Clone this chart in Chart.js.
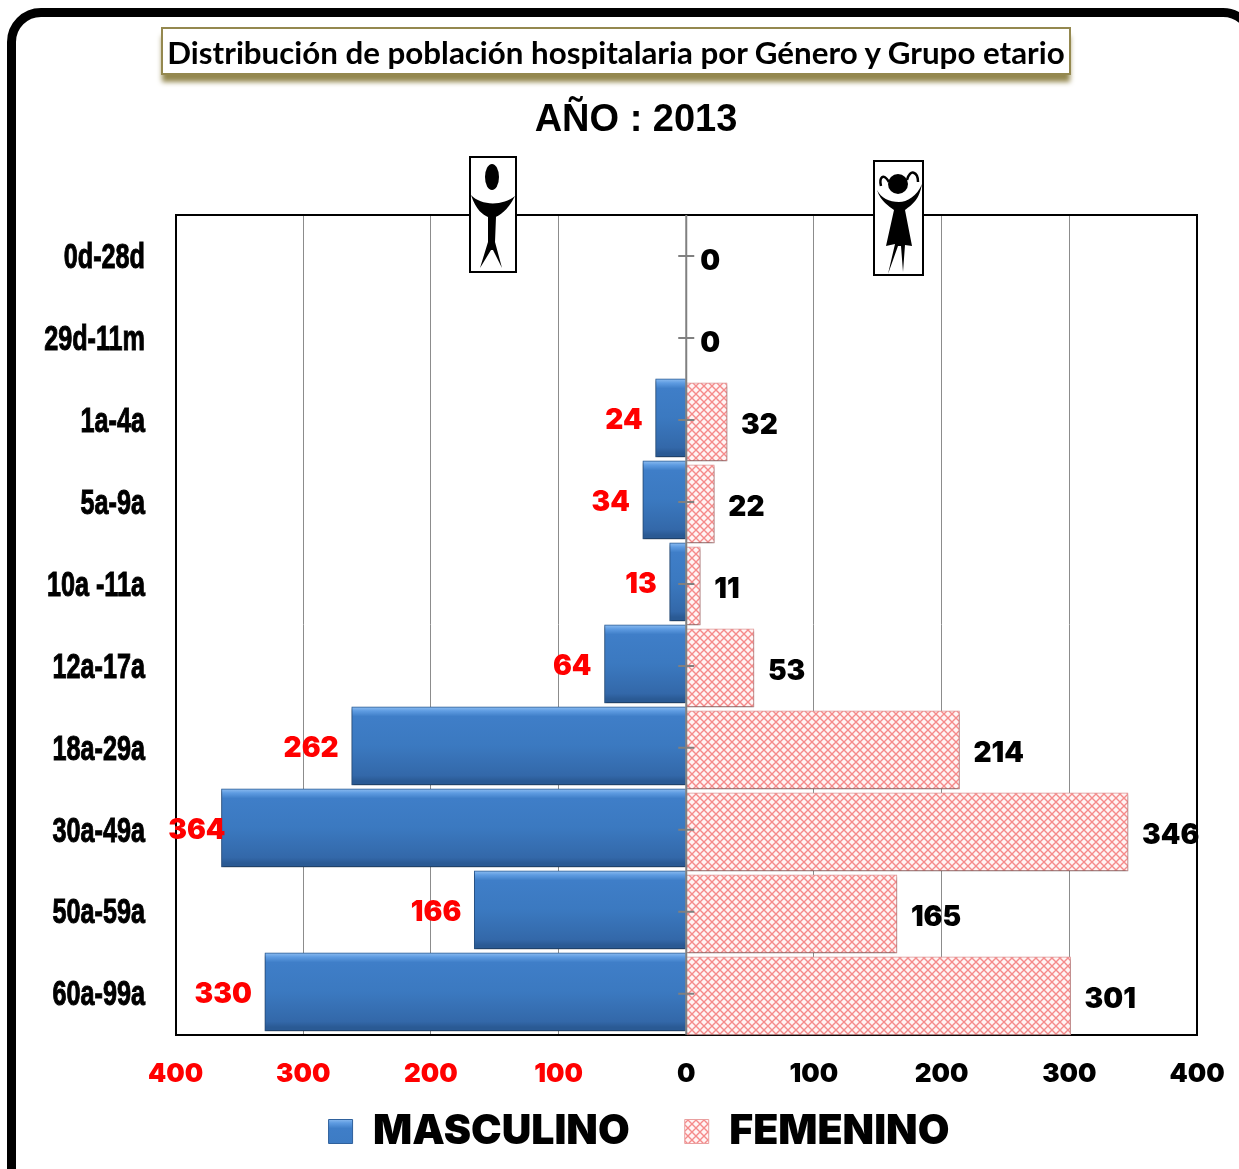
<!DOCTYPE html>
<html lang="es">
<head>
<meta charset="utf-8">
<title>Distribución de población hospitalaria</title>
<script src="https://cdn.jsdelivr.net/npm/chart.js@4/dist/chart.umd.min.js"></script>
<style>
    html, body { margin: 0; padding: 0; background: #fff; }
    #page { position: relative; width: 1239px; height: 1169px; overflow: hidden; }
    #frame { position: absolute; left: 7px; top: 8px; width: 1250px; height: 1200px; box-sizing: border-box; border: 9px solid #000; border-radius: 34px; }
    canvas { position: absolute; left: 0; top: 0; }
    #title-box { position: absolute; left: 161px; top: 27px; width: 910px; height: 48px; box-sizing: border-box; border: 2px solid #94884f; background: #fff; box-shadow: 0 8px 5px -1px #94884f; text-align: center; font: bold 31.3px/46px Lato, sans-serif; color: #000; white-space: nowrap; }
    #year { position: absolute; left: 336px; width: 600px; top: 95px; text-align: center; font: bold 38px/46px "Liberation Sans", sans-serif; color: #000; }
    .icon { position: absolute; box-sizing: border-box; border: 2px solid #000; background: #fff; }
</style>
</head>
<body>
<div id="page">
    <div id="frame"></div>
    <canvas id="chart" width="1239" height="1169"></canvas>
    <div id="title-box">Distribución de población hospitalaria por Género y Grupo etario</div>
    <div id="year">AÑO : 2013</div>
    <svg class="icon" style="left:469px;top:156px" width="48" height="117" viewBox="0 0 44 113">
        <ellipse cx="21" cy="19" rx="7" ry="13"/>
        <path d="M0 37 C10 48 32 48 44 38 C36 54 28 57 25 59 L24 84 L31 110 L22 92 L20 92 L9 110 L17 84 L17 59 C12 57 5 52 0 37Z"/>
    </svg>
    <svg class="icon" style="left:873px;top:160px" width="51" height="116" viewBox="0 0 47 112">
        <circle cx="23" cy="22" r="10"/>
        <path d="M14 20 C8 10 4 16 6 24 M32 18 C35 6 43 10 43 20" fill="none" stroke="#000" stroke-width="2.5"/>
        <path d="M2 28 C6 40 14 44 19 48 L11 84 L20 82 L13 112 L23 84 L26 84 L28 110 L30 83 L37 84 L30 48 C38 42 44 38 47 22 C42 34 32 40 24 40 C14 40 6 36 2 28Z"/>
    </svg>
</div>
<script>
// datos
const categories = ['0d-28d', '29d-11m', '1a-4a', '5a-9a', '10a -11a', '12a-17a', '18a-29a', '30a-49a', '50a-59a', '60a-99a'];
const masculino = [0, 0, 24, 34, 13, 64, 262, 364, 166, 330];
const femenino = [0, 0, 32, 22, 11, 53, 214, 346, 165, 301];
const xTicks = [-400, -300, -200, -100, 0, 100, 200, 300, 400];

const PLOT_TOP = 215;
const ROW = 82;
const HEAVY = 'Inter, "Liberation Sans", sans-serif';

// trama azul: se repite cada fila para que cada barra tenga su propio degradado
function bluePattern(ctx) {
    const tile = document.createElement('canvas');
    tile.width = 4;
    tile.height = ROW;
    const t = tile.getContext('2d');
    const start = (PLOT_TOP + 2) % ROW;
    const g = t.createLinearGradient(0, 0, 0, 78);
    g.addColorStop(0, '#8cbcf0');
    g.addColorStop(0.05, '#5f9ce2');
    g.addColorStop(0.12, '#3f7ec8');
    g.addColorStop(0.5, '#3b79c0');
    g.addColorStop(0.88, '#3368a9');
    g.addColorStop(0.95, '#2a5a94');
    g.addColorStop(1, '#2a5a94');
    t.fillStyle = g;
    t.translate(0, start);
    t.fillRect(0, 0, 4, ROW);
    t.translate(0, -ROW);
    t.fillRect(0, 0, 4, ROW);
    return ctx.createPattern(tile, 'repeat');
}

function pinkPattern(ctx) {
    const tile = document.createElement('canvas');
    tile.width = 8;
    tile.height = 8;
    const t = tile.getContext('2d');
    t.fillStyle = '#fff4f4';
    t.fillRect(0, 0, 8, 8);
    t.strokeStyle = '#f58a8a';
    t.lineWidth = 1.4;
    t.beginPath();
    t.moveTo(-1, -1); t.lineTo(9, 9);
    t.moveTo(9, -1); t.lineTo(-1, 9);
    t.stroke();
    return ctx.createPattern(tile, 'repeat');
}

const barExtras = {
    id: 'barExtras',
    afterLayout(chart) {
        // la leyenda queda corrida a la derecha y mas arriba que el hueco reservado
        const legend = chart.legend;
        const h = legend.bottom - legend.top;
        legend.left += 40.5;
        legend.right += 40.5;
        legend.top = 1056;
        legend.bottom = legend.top + h;
    },
    beforeDatasetDraw(chart, args) {
        // masculino un poco arriba, femenino un poco abajo, con sombra
        const ctx = chart.ctx;
        ctx.save();
        ctx.translate(0, args.index === 0 ? -2 : 2);
        ctx.shadowColor = 'rgba(0,0,0,0.45)';
        ctx.shadowBlur = 3;
        ctx.shadowOffsetY = 2;
    },
    afterDatasetDraw(chart) {
        chart.ctx.restore();
    },
    afterDatasetsDraw(chart) {
        const ctx = chart.ctx;
        const area = chart.chartArea;
        const x = chart.scales.x;
        const y = chart.scales.y;
        const zero = x.getPixelForValue(0);

        ctx.save();
        ctx.strokeStyle = '#000';
        ctx.lineWidth = 2;
        ctx.beginPath();
        ctx.moveTo(area.left, area.top);
        ctx.lineTo(area.right, area.top);
        ctx.lineTo(area.right, area.bottom);
        ctx.stroke();

        // eje central con sus marcas
        ctx.strokeStyle = '#808080';
        ctx.lineWidth = 2;
        ctx.beginPath();
        ctx.moveTo(zero, area.top);
        ctx.lineTo(zero, area.bottom);
        categories.forEach((c, i) => {
            const py = y.getPixelForTick(i);
            ctx.moveTo(zero - 8, py);
            ctx.lineTo(zero + 8, py);
        });
        ctx.stroke();

        // etiquetas de categoria: no hay fuente angosta instalada, se comprime a mano
        ctx.fillStyle = '#000';
        ctx.textAlign = 'right';
        ctx.textBaseline = 'middle';
        ctx.font = 'bold 35px "Liberation Sans", sans-serif';
        categories.forEach((c, i) => {
            ctx.save();
            ctx.translate(145, y.getPixelForTick(i) + 2);
            ctx.scale(0.72, 1);
            ctx.fillText(c, 0, 0);
            ctx.strokeStyle = '#000';
            ctx.lineWidth = 1;
            ctx.strokeText(c, 0, 0);
            ctx.restore();
        });

        // etiquetas de valores
        ctx.font = '900 28px ' + HEAVY;
        const leftLimit = x.getPixelForValue(-364) + 4;
        chart.getDatasetMeta(0).data.forEach((bar, i) => {
            if (!masculino[i]) return;
            ctx.fillStyle = '#ff0000';
            ctx.textAlign = 'right';
            ctx.fillText(masculino[i], Math.max(bar.x - 13, leftLimit), bar.y + 1);
        });
        chart.getDatasetMeta(1).data.forEach((bar, i) => {
            ctx.fillStyle = '#000';
            ctx.textAlign = 'left';
            ctx.fillText(femenino[i], bar.x + 14, bar.y + 6);
        });
        ctx.restore();
    }
};

const ctx = document.getElementById('chart').getContext('2d');
const maleFill = bluePattern(ctx);
const femaleFill = pinkPattern(ctx);

new Chart(ctx, {
    type: 'bar',
    data: {
        labels: categories,
        datasets: [
            {
                label: 'MASCULINO',
                data: masculino.map(v => -v),
                backgroundColor: maleFill,
                borderColor: '#2f619c',
                borderWidth: 1
            },
            {
                label: 'FEMENINO',
                data: femenino,
                backgroundColor: femaleFill,
                borderColor: '#e9a0a0',
                borderWidth: 1
            }
        ]
    },
    options: {
        indexAxis: 'y',
        responsive: false,
        animation: false,
        layout: { padding: { top: 215, left: 0, right: 42, bottom: -51 } },
        datasets: { bar: { grouped: false, barThickness: 78 } },
        scales: {
            x: {
                type: 'linear',
                min: -400,
                max: 400,
                afterBuildTicks: axis => { axis.ticks = xTicks.map(v => ({ value: v })); },
                afterFit: axis => { axis.paddingLeft = 0; axis.paddingRight = 0; },
                grid: {
                    drawTicks: false,
                    lineWidth: 1,
                    color: c => (Math.abs(c.tick.value) === 400 ? '#000' : '#8c8c8c')
                },
                border: { color: '#000', width: 2 },
                ticks: {
                    padding: 24,
                    autoSkip: false,
                    maxRotation: 0,
                    callback: v => Math.abs(v),
                    color: c => (c.tick.value < 0 ? '#ff0000' : '#000'),
                    font: { family: HEAVY, size: 26, weight: '900' }
                }
            },
            y: {
                afterFit: axis => { axis.width = 175.5; },
                grid: { display: false, drawTicks: false },
                border: { color: '#000', width: 2 },
                ticks: { display: false }
            }
        },
        plugins: {
            title: { display: false },
            tooltip: { enabled: false },
            legend: {
                position: 'bottom',
                labels: {
                    boxWidth: 24,
                    boxHeight: 24,
                    padding: 55,
                    color: '#000',
                    font: { family: HEAVY, size: 41, weight: '900' }
                }
            }
        }
    },
    plugins: [barExtras]
});
</script>
</body>
</html>
